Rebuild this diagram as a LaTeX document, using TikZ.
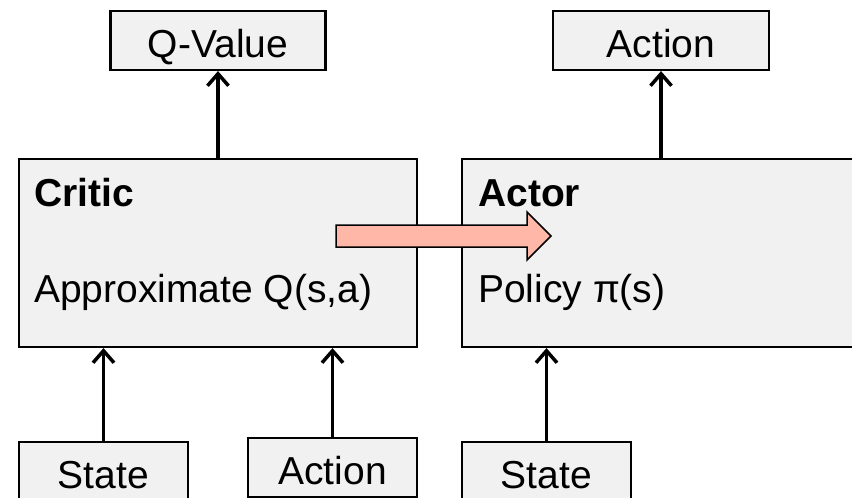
\documentclass[tikz,border=0pt]{standalone}
\usepackage{fontspec}
\setmainfont{Liberation Sans}
\usetikzlibrary{arrows.meta}
\definecolor{boxgray}{RGB}{241,241,241}
\definecolor{linkpink}{RGB}{255,183,168}

\begin{document}
\begin{tikzpicture}[x=1pt,y=-1pt,
  box/.style={draw=black, fill=boxgray, line width=2.2pt, inner sep=0pt,
              text height=33pt, text depth=0pt,
              font=\fontsize{39}{44}\selectfont},
  lbl/.style={anchor=base west, inner sep=0pt, font=\fontsize{39}{44}\selectfont},
  flow/.style={line width=3.8pt, -{Straight Barb[length=12pt,width=21pt,line width=3.5pt]}}
]
\useasboundingbox (0,0) rectangle (852,498);
\clip (0,0) rectangle (852,498);

% outputs on top
\node[box, minimum width=215pt, minimum height=59pt] (qv) at (218,40.5) {Q-Value};
\node[box, minimum width=216pt, minimum height=59pt] (aout) at (661,40.5) {Action};

% critic and actor blocks
\node[box, minimum width=398pt, minimum height=188pt] (critic) at (218,253) {};
\node[box, minimum width=400pt, minimum height=188pt] (actor) at (662,253) {};
\node[lbl, font=\fontsize{39}{44}\selectfont\bfseries] (ctitle) at (34,206) {Critic};
\node[lbl] (cbody) at (34,302) {Approximate Q(s,a)};
\node[lbl, font=\fontsize{39}{44}\selectfont\bfseries] (atitle) at (478,206) {Actor};
\node[lbl] (abody) at (478,302) {Policy π(s)};

% inputs at the bottom
\node[box, minimum width=169pt, minimum height=59pt] (s1) at (103.5,471.5) {State};
\node[box, minimum width=169pt, minimum height=59pt] (a1) at (332.5,467.5) {Action};
\node[box, minimum width=169pt, minimum height=59pt] (s2) at (546.5,471.5) {State};

% data flow
\draw[flow] (critic.north -| qv.south) -- (qv.south);
\draw[flow] (actor.north -| aout.south) -- (aout.south);
\draw[flow] (s1.north) -- (s1.north |- critic.south);
\draw[flow] (a1.north) -- (a1.north |- critic.south);
\draw[flow] (s2.north) -- (s2.north |- actor.south);

% critic feeds the actor
\draw[fill=linkpink, line width=1.5pt, line join=miter]
  (336,225) -- (527,225) -- (527,212) -- (551,236) -- (527,260)
  -- (527,247) -- (336,247) -- cycle;
\end{tikzpicture}
\end{document}
